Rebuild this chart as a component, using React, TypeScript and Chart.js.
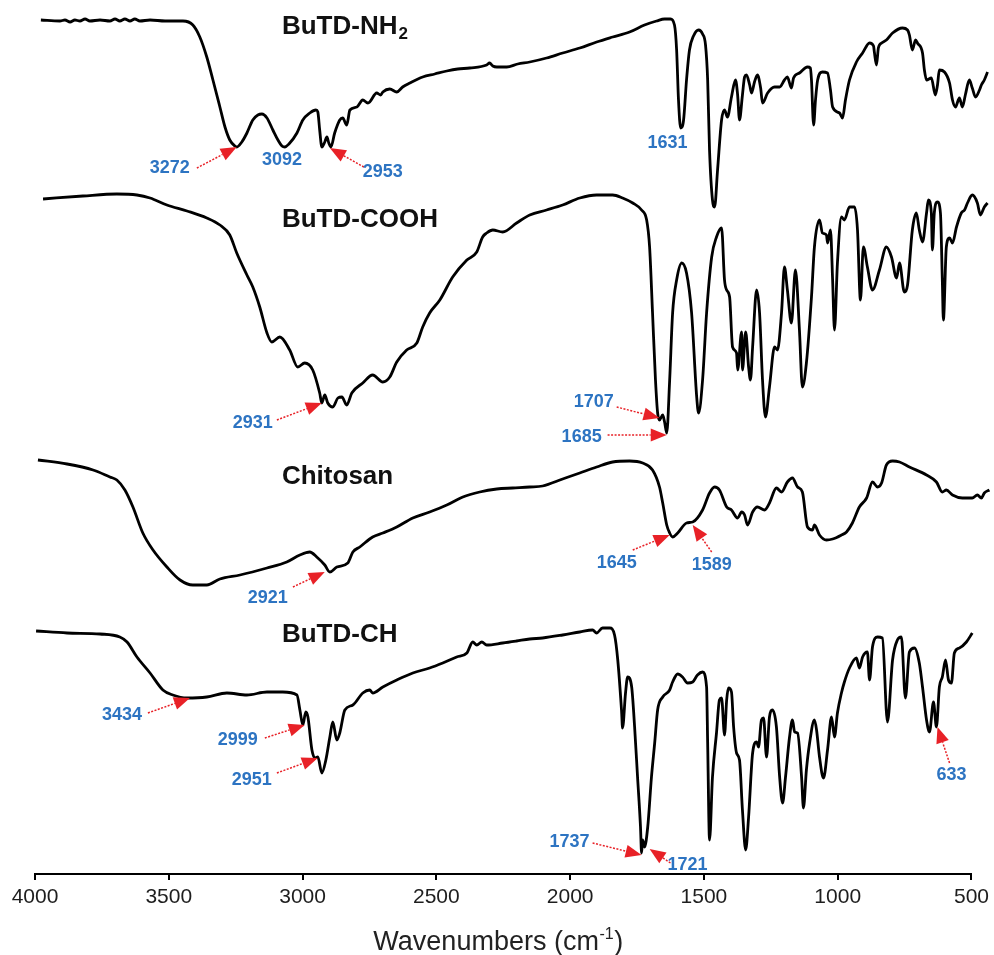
import React, { useEffect, useRef } from 'react';
import { Chart, registerables } from 'chart.js';

Chart.register(...registerables);

// x axis (wavenumber, cm-1)
const X_MIN = 500;
const X_MAX = 4000;
const X_STEP = 500;
const X_TITLE = 'Wavenumbers (cm';
const X_TITLE_SUP = '-1';

// spectrum names
const NAMES = ['BuTD-NH', 'BuTD-COOH', 'Chitosan', 'BuTD-CH'];
const NAME_SUBS = ['2', '', '', ''];
const NAME_AT = [[3077, 847], [3077, 654], [3077, 397], [3077, 239]];

// spectra: [wavenumber, offset transmittance (a.u.)]
const NH2 = [
  [3978, 854], [3907, 853], [3888, 854], [3869, 852], [3851, 854], [3832, 853], [3813, 855], [3795, 853],
  [3757, 854], [3720, 853], [3701, 855], [3683, 853], [3664, 855], [3645, 853], [3627, 855], [3608, 853],
  [3570, 854], [3514, 853], [3447, 853], [3410, 849], [3384, 837], [3358, 817], [3335, 794], [3309, 767],
  [3290, 747], [3272, 734], [3253, 728], [3246, 727], [3227, 732], [3208, 741], [3186, 754], [3167, 759],
  [3152, 760], [3133, 756], [3111, 744], [3092, 734], [3077, 728], [3066, 727], [3051, 730], [3021, 741],
  [2999, 754], [2973, 761], [2950, 764], [2943, 762], [2936, 744], [2928, 727], [2917, 732], [2909, 737],
  [2902, 731], [2894, 727], [2880, 741], [2861, 754], [2850, 756], [2835, 749], [2823, 764], [2797, 767],
  [2775, 774], [2756, 771], [2749, 772], [2723, 781], [2708, 779], [2700, 782], [2674, 785], [2648, 782],
  [2626, 787], [2599, 791], [2551, 797], [2506, 800], [2461, 803], [2420, 805], [2375, 806], [2312, 809],
  [2301, 811], [2289, 808], [2274, 807], [2237, 807], [2196, 810], [2151, 812], [2088, 816], [2028, 821],
  [1964, 826], [1901, 832], [1841, 837], [1778, 842], [1722, 849], [1677, 853], [1647, 855], [1625, 855],
  [1610, 849], [1602, 824], [1595, 774], [1587, 746], [1576, 754], [1565, 794], [1554, 824], [1539, 838],
  [1520, 844], [1505, 840], [1494, 829], [1486, 794], [1479, 724], [1468, 674], [1460, 667], [1449, 704],
  [1434, 754], [1423, 764], [1412, 757], [1397, 777], [1382, 794], [1374, 779], [1367, 754], [1356, 779],
  [1348, 797], [1341, 799], [1329, 789], [1322, 781], [1311, 792], [1300, 799], [1288, 786], [1281, 771],
  [1262, 781], [1236, 787], [1217, 787], [1199, 794], [1188, 797], [1173, 786], [1165, 796], [1143, 801],
  [1113, 807], [1102, 806], [1098, 794], [1090, 749], [1083, 774], [1075, 794], [1057, 802], [1038, 801],
  [1027, 784], [1019, 767], [993, 761], [982, 756], [971, 774], [956, 794], [930, 812], [907, 821],
  [881, 831], [866, 828], [863, 822], [855, 809], [848, 826], [836, 831], [818, 834], [795, 841],
  [758, 846], [739, 844], [732, 839], [721, 824], [709, 834], [702, 831], [683, 821], [676, 804],
  [668, 794], [650, 796], [635, 779], [627, 789], [620, 804], [601, 802], [582, 791], [571, 774],
  [560, 767], [545, 776], [534, 767], [523, 779], [508, 794], [497, 786], [485, 777], [470, 784],
  [463, 789], [452, 794], [440, 802],
];

const COOH = [
  [3970, 675], [3821, 678], [3694, 680], [3619, 679], [3570, 676], [3507, 669], [3432, 663], [3358, 656],
  [3309, 649], [3272, 639], [3246, 621], [3208, 599], [3186, 587], [3160, 567], [3133, 541], [3115, 532],
  [3085, 537], [3048, 524], [3018, 507], [2992, 511], [2962, 504], [2936, 481], [2928, 471], [2917, 479],
  [2906, 471], [2887, 467], [2868, 476], [2853, 477], [2835, 469], [2816, 481], [2775, 491], [2738, 499],
  [2700, 492], [2674, 497], [2648, 512], [2611, 524], [2573, 531], [2551, 547], [2525, 561], [2487, 574],
  [2439, 597], [2386, 614], [2349, 622], [2327, 637], [2312, 641], [2289, 644], [2252, 642], [2200, 651],
  [2151, 659], [2088, 664], [2028, 669], [1964, 676], [1901, 679], [1841, 679], [1804, 676], [1766, 671],
  [1733, 664], [1714, 654], [1703, 627], [1692, 561], [1681, 494], [1673, 461], [1666, 454], [1654, 459],
  [1647, 452], [1639, 441], [1628, 494], [1617, 561], [1602, 594], [1583, 611], [1565, 601], [1546, 561],
  [1527, 477], [1520, 461], [1505, 494], [1490, 561], [1471, 617], [1453, 637], [1434, 646], [1423, 594],
  [1415, 584], [1404, 577], [1393, 527], [1378, 521], [1374, 504], [1359, 542], [1356, 504], [1344, 542],
  [1333, 507], [1326, 494], [1318, 527], [1303, 584], [1292, 561], [1281, 494], [1270, 457], [1255, 487],
  [1236, 527], [1225, 524], [1210, 561], [1199, 607], [1188, 584], [1173, 551], [1158, 604], [1143, 544],
  [1132, 487], [1117, 511], [1098, 577], [1087, 627], [1068, 654], [1057, 641], [1042, 639], [1038, 631],
  [1027, 644], [1019, 594], [1012, 544], [1001, 611], [986, 657], [975, 654], [956, 667], [937, 667],
  [926, 644], [915, 574], [904, 627], [889, 607], [870, 584], [844, 604], [818, 627], [799, 617],
  [780, 596], [769, 611], [751, 582], [739, 589], [721, 644], [706, 661], [695, 644], [683, 632],
  [668, 661], [661, 674], [650, 661], [646, 624], [639, 661], [627, 672], [616, 661], [609, 594],
  [605, 554], [594, 627], [582, 636], [571, 631], [556, 647], [538, 661], [526, 664], [515, 671],
  [497, 679], [478, 671], [467, 659], [452, 667], [440, 671],
];

const CHITOSAN = [
  [3989, 414], [3880, 410], [3783, 404], [3720, 397], [3694, 394], [3664, 384], [3634, 367], [3597, 341],
  [3559, 324], [3507, 307], [3458, 294], [3410, 289], [3358, 289], [3309, 295], [3234, 299], [3133, 306],
  [3059, 312], [3010, 319], [2973, 322], [2947, 317], [2917, 309], [2898, 302], [2872, 307], [2831, 311],
  [2812, 322], [2786, 327], [2738, 337], [2700, 341], [2648, 347], [2588, 356], [2525, 362], [2461, 369],
  [2401, 377], [2338, 382], [2274, 385], [2215, 386], [2151, 387], [2103, 388], [2028, 395], [1964, 401],
  [1901, 407], [1841, 412], [1778, 413], [1729, 411], [1692, 404], [1666, 387], [1654, 371], [1639, 349],
  [1628, 341], [1617, 337], [1598, 341], [1565, 351], [1542, 352], [1505, 364], [1479, 381], [1460, 387],
  [1442, 384], [1415, 367], [1397, 364], [1374, 356], [1359, 362], [1348, 359], [1337, 349], [1318, 362],
  [1300, 367], [1273, 364], [1255, 371], [1229, 386], [1210, 382], [1188, 392], [1169, 396], [1150, 387],
  [1132, 382], [1113, 347], [1094, 344], [1087, 349], [1068, 339], [1042, 334], [1019, 335], [986, 339],
  [967, 342], [945, 351], [919, 367], [892, 376], [870, 392], [851, 387], [836, 391], [818, 409],
  [795, 413], [769, 412], [732, 407], [668, 399], [631, 392], [609, 382], [594, 384], [571, 379],
  [534, 376], [497, 376], [478, 379], [463, 376], [452, 381], [433, 384],
];

const CH = [
  [3996, 243], [3880, 241], [3757, 240], [3683, 237], [3656, 232], [3619, 217], [3570, 201], [3522, 184],
  [3485, 179], [3432, 176], [3358, 177], [3283, 181], [3208, 179], [3133, 182], [3074, 182], [3021, 179],
  [3010, 164], [2999, 149], [2988, 162], [2980, 157], [2965, 124], [2954, 116], [2943, 117], [2928, 101],
  [2913, 114], [2898, 137], [2887, 152], [2872, 134], [2861, 141], [2842, 164], [2812, 169], [2775, 181],
  [2749, 184], [2738, 181], [2700, 187], [2648, 194], [2588, 201], [2525, 206], [2476, 211], [2424, 217],
  [2386, 221], [2364, 232], [2349, 229], [2330, 232], [2312, 229], [2252, 231], [2200, 233], [2151, 235],
  [2103, 236], [2028, 239], [1964, 242], [1916, 244], [1901, 241], [1879, 246], [1852, 246], [1834, 239],
  [1822, 214], [1808, 164], [1804, 146], [1793, 181], [1785, 197], [1770, 187], [1759, 147], [1748, 97],
  [1737, 47], [1733, 21], [1729, 34], [1722, 27], [1710, 47], [1696, 97], [1684, 131], [1673, 164],
  [1654, 177], [1628, 184], [1617, 192], [1598, 200], [1580, 197], [1561, 191], [1542, 192], [1524, 199],
  [1505, 202], [1490, 187], [1486, 131], [1479, 34], [1468, 97], [1453, 141], [1442, 174], [1434, 176],
  [1423, 139], [1415, 174], [1408, 186], [1397, 182], [1389, 147], [1378, 121], [1367, 114], [1356, 64],
  [1344, 24], [1333, 57], [1318, 121], [1303, 132], [1296, 127], [1285, 154], [1277, 156], [1266, 117],
  [1255, 157], [1244, 164], [1229, 147], [1217, 97], [1206, 71], [1195, 97], [1180, 137], [1169, 154],
  [1161, 142], [1150, 141], [1135, 97], [1128, 66], [1117, 104], [1105, 131], [1087, 154], [1079, 144],
  [1068, 117], [1053, 96], [1038, 124], [1023, 157], [1012, 137], [1001, 161], [986, 181], [975, 192],
  [956, 206], [930, 216], [919, 206], [907, 217], [889, 222], [881, 194], [870, 227], [851, 237],
  [833, 236], [814, 152], [795, 214], [777, 234], [762, 237], [747, 176], [732, 222], [713, 226],
  [695, 211], [683, 187], [668, 154], [657, 142], [642, 172], [631, 147], [620, 187], [609, 197],
  [597, 214], [586, 194], [575, 191], [564, 221], [545, 226], [519, 232], [497, 241],
];

// peak annotations (data coordinates)
const PEAK_LABELS = ['3272', '3092', '2953', '1631', '2931', '1707', '1685', '2921', '1645', '1589', '3434', '2999', '2951', '1737', '1721', '633'];
const PEAK_TEXT_AT = [
  [3496, 706], [3077, 714], [2700, 702], [1636, 731], [3186, 451], [1912, 472], [1957, 437], [3130, 276],
  [1826, 311], [1471, 309], [3675, 159], [3242, 134], [3190, 94], [2002, 32], [1561, 9], [575, 99],
];
const PEAK_ARROW_FROM = [
  [3395, 706], null, [2771, 707], null, [3096, 454], [1826, 467], [1860, 439], [3036, 287],
  [1766, 324], [1471, 322], [3578, 161], [3141, 136], [3096, 101], [1916, 31], [1625, 11], [582, 111],
];
const PEAK_ARROW_TO = [
  [3246, 727], null, [2898, 726], null, [2928, 471], [1666, 456], [1639, 439], [2917, 302],
  [1628, 339], [1542, 349], [3421, 176], [2992, 149], [2943, 116], [1733, 19], [1703, 25], [627, 147],
];

const FONT = "'Liberation Sans', Arial, Helvetica, sans-serif";
const BLUE = '#2d74c2';
const RED = '#e82127';

function drawArrow(ctx: CanvasRenderingContext2D, x1: number, y1: number, x2: number, y2: number) {
  const ang = Math.atan2(y2 - y1, x2 - x1);
  const headLen = 16;
  const headW = 6.5;
  const bx = x2 - headLen * Math.cos(ang);
  const by = y2 - headLen * Math.sin(ang);
  ctx.save();
  ctx.strokeStyle = RED;
  ctx.lineWidth = 1.5;
  ctx.setLineDash([2, 1.5]);
  ctx.beginPath();
  ctx.moveTo(x1, y1);
  ctx.lineTo(bx, by);
  ctx.stroke();
  ctx.setLineDash([]);
  ctx.fillStyle = RED;
  ctx.beginPath();
  ctx.moveTo(x2, y2);
  ctx.lineTo(bx + headW * Math.sin(ang), by - headW * Math.cos(ang));
  ctx.lineTo(bx - headW * Math.sin(ang), by + headW * Math.cos(ang));
  ctx.closePath();
  ctx.fill();
  ctx.restore();
}

const annotationPlugin = {
  id: 'ftirAnnotations',
  afterDraw(chart: any) {
    const ctx: CanvasRenderingContext2D = chart.ctx;
    const xs = chart.scales.x;
    const ys = chart.scales.y;
    const px = (v: number) => xs.getPixelForValue(v);
    const py = (v: number) => ys.getPixelForValue(v);

    // spectrum names
    ctx.save();
    ctx.fillStyle = '#111';
    ctx.textBaseline = 'middle';
    ctx.textAlign = 'left';
    NAMES.forEach((name, i) => {
      ctx.font = `bold 26px ${FONT}`;
      const x = px(NAME_AT[i][0]);
      const y = py(NAME_AT[i][1]);
      ctx.fillText(name, x, y);
      if (NAME_SUBS[i]) {
        const w = ctx.measureText(name).width;
        ctx.font = `bold 17px ${FONT}`;
        ctx.fillText(NAME_SUBS[i], x + w + 1, y + 7);
      }
    });
    ctx.restore();

    // arrows
    PEAK_LABELS.forEach((_, i) => {
      const f = PEAK_ARROW_FROM[i];
      const t = PEAK_ARROW_TO[i];
      if (f && t) drawArrow(ctx, px(f[0]), py(f[1]), px(t[0]), py(t[1]));
    });

    // peak labels
    ctx.save();
    ctx.fillStyle = BLUE;
    ctx.font = `bold 18px ${FONT}`;
    ctx.textAlign = 'center';
    ctx.textBaseline = 'middle';
    PEAK_LABELS.forEach((lab, i) => {
      ctx.fillText(lab, px(PEAK_TEXT_AT[i][0]), py(PEAK_TEXT_AT[i][1]));
    });
    ctx.restore();

    // axis title
    ctx.save();
    ctx.fillStyle = '#222';
    ctx.textBaseline = 'alphabetic';
    ctx.textAlign = 'left';
    ctx.font = `27px ${FONT}`;
    const mainW = ctx.measureText(X_TITLE).width;
    const closeW = ctx.measureText(')').width;
    ctx.font = `16px ${FONT}`;
    const supW = ctx.measureText(X_TITLE_SUP).width;
    const total = mainW + supW + closeW + 1;
    const cx = (chart.chartArea.left + chart.chartArea.right) / 2 - 5;
    const base = 950;
    let x = cx - total / 2;
    ctx.font = `27px ${FONT}`;
    ctx.fillText(X_TITLE, x, base);
    x += mainW;
    ctx.font = `16px ${FONT}`;
    ctx.fillText(X_TITLE_SUP, x + 0.5, base - 11);
    x += supW + 1;
    ctx.font = `27px ${FONT}`;
    ctx.fillText(')', x, base);
    ctx.restore();
  },
};

function mkData(arr: number[][]) {
  return arr.map((p) => ({ x: p[0], y: p[1] }));
}

export default function App() {
  const ref = useRef<HTMLCanvasElement | null>(null);
  useEffect(() => {
    document.body.style.margin = '0';
    document.body.style.overflow = 'hidden';
    if (!ref.current) return;
    const series = [NH2, COOH, CHITOSAN, CH];
    const chart = new Chart(ref.current, {
      type: 'line',
      data: {
        datasets: series.map((s, i) => ({
          label: NAMES[i],
          data: mkData(s),
          borderColor: '#000',
          borderWidth: 2.8,
          pointRadius: 0,
          fill: false,
          cubicInterpolationMode: 'monotone',
          clip: false,
        })),
      },
      options: {
        responsive: false,
        animation: false,
        events: [],
        layout: { padding: { left: 35, right: 22, top: 8, bottom: 0 } },
        plugins: { legend: { display: false }, tooltip: { enabled: false }, title: { display: false } },
        scales: {
          x: {
            type: 'linear',
            min: X_MIN,
            max: X_MAX,
            reverse: true,
            afterFit: (scale: any) => {
              scale.height = 81;
            },
            ticks: {
              stepSize: X_STEP,
              autoSkip: false,
              maxRotation: 0,
              padding: 5,
              color: '#1e1e1e',
              font: { family: FONT, size: 21 },
              callback: (v: any) => String(v),
            },
            grid: {
              display: true,
              drawOnChartArea: false,
              drawTicks: true,
              tickLength: 6,
              color: '#000',
              lineWidth: 2,
            },
            border: { display: true, color: '#000', width: 2 },
          },
          y: {
            type: 'linear',
            display: false,
            min: 0,
            max: 866,
          },
        },
      } as any,
      plugins: [annotationPlugin],
    });
    return () => chart.destroy();
  }, []);
  return (
    <div style={{ position: 'absolute', left: 0, top: 0, width: 994, height: 955, background: '#fff' }}>
      <canvas ref={ref} width={994} height={955} style={{ display: 'block' }} />
    </div>
  );
}
